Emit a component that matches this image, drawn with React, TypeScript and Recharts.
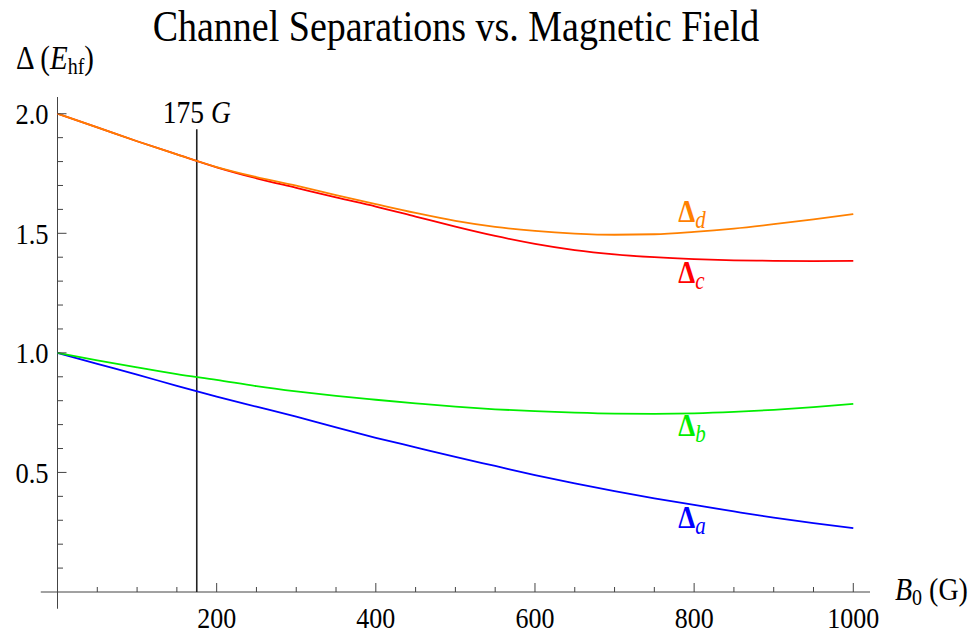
import React from 'react';
import { LineChart, Line, XAxis, YAxis, ReferenceLine, ReferenceDot } from 'recharts';

// B0 in gauss, separations in units of E_hf
const fieldG = [0, 50, 100, 150, 200, 250, 300, 350, 400, 450, 500, 550, 600, 650, 700, 750, 800, 850, 900, 950, 1000];
const deltaA = [1.0, 0.954, 0.909, 0.862, 0.817, 0.775, 0.733, 0.688, 0.645, 0.605, 0.565, 0.527, 0.489, 0.454, 0.422, 0.392, 0.364, 0.337, 0.311, 0.288, 0.267];
const deltaB = [1.0, 0.969, 0.939, 0.911, 0.887, 0.861, 0.839, 0.820, 0.804, 0.789, 0.775, 0.764, 0.756, 0.750, 0.746, 0.745, 0.747, 0.753, 0.762, 0.773, 0.787];
const deltaC = [2.0, 1.943, 1.885, 1.830, 1.776, 1.730, 1.690, 1.650, 1.612, 1.570, 1.528, 1.489, 1.456, 1.430, 1.412, 1.400, 1.392, 1.387, 1.385, 1.384, 1.385];
const deltaD = [2.0, 1.943, 1.885, 1.830, 1.777, 1.735, 1.699, 1.660, 1.622, 1.585, 1.552, 1.527, 1.510, 1.499, 1.494, 1.496, 1.506, 1.520, 1.538, 1.558, 1.580];

const xTicks = [50, 100, 150, 200, 250, 300, 350, 400, 450, 500, 550, 600, 650, 700, 750, 800, 850, 900, 950, 1000];
const yTicks = [0.1, 0.2, 0.3, 0.4, 0.5, 0.6, 0.7, 0.8, 0.9, 1.0, 1.1, 1.2, 1.3, 1.4, 1.5, 1.6, 1.7, 1.8, 1.9, 2.0];

const markerField = 175;

const data = fieldG.map((b, i) => ({ b, a: deltaA[i], bb: deltaB[i], c: deltaC[i], d: deltaD[i] }));

const SERIF = '"Liberation Serif", "Times New Roman", serif';
const AXIS = '#444';
const STRETCH = 1.15; // the reference type is a little taller than it is wide

const COLORS = { a: '#0000ff', b: '#00ee00', c: '#ff0000', d: '#ff8000' };

// where the Δ labels sit (data coords)
const curveLabels = [
  { sub: 'd', color: COLORS.d, x: 780, y: 1.547 },
  { sub: 'c', color: COLORS.c, x: 780, y: 1.292 },
  { sub: 'b', color: COLORS.b, x: 780, y: 0.652 },
  { sub: 'a', color: COLORS.a, x: 780, y: 0.268 },
];

const TallText = ({ x, y, size, anchor = 'start', fill = '#000', children }: any) => (
  <text
    transform={`translate(${x} ${y}) scale(1 ${STRETCH})`}
    x={0}
    y={0}
    textAnchor={anchor}
    fontSize={size}
    fontFamily={SERIF}
    fill={fill}
  >
    {children}
  </text>
);

const XTick = (props: any) => {
  const { x, y, payload } = props;
  const major = payload.value % 200 === 0;
  return (
    <g>
      <line x1={x} y1={y} x2={x} y2={y - (major ? 9 : 5)} stroke={AXIS} strokeWidth={1} />
      {major && (
        <TallText x={x} y={y + 35.5} size={26} anchor="middle">
          {payload.value}
        </TallText>
      )}
    </g>
  );
};

const YTick = (props: any) => {
  const { x, y, payload } = props;
  const v = payload.value;
  const major = Math.abs(v * 2 - Math.round(v * 2)) < 1e-6;
  return (
    <g>
      <line x1={x} y1={y} x2={x + (major ? 9 : 5.5)} y2={y} stroke={AXIS} strokeWidth={1} />
      {major && (
        <TallText x={x - 9} y={y + 10.5} size={26.5} anchor="end">
          {v.toFixed(1)}
        </TallText>
      )}
    </g>
  );
};

const App: React.FC = () => {
  return (
    <div style={{ position: 'absolute', left: 0, top: 0, width: 978, height: 634, background: '#fff' }}>
      <LineChart
        width={978}
        height={634}
        data={data}
        margin={{ top: 97, right: 108, bottom: 2, left: 7.5 }}
      >
        <XAxis
          dataKey="b"
          type="number"
          domain={[0, 1021]}
          ticks={xTicks}
          interval={0}
          axisLine={false}
          tickLine={false}
          tickSize={0}
          tickMargin={0}
          height={40}
          tick={(p: any) => <XTick {...p} />}
        />
        <YAxis
          type="number"
          domain={[0, 2.07]}
          ticks={yTicks}
          interval={0}
          axisLine={false}
          tickLine={false}
          tickSize={0}
          tickMargin={0}
          width={50}
          tick={(p: any) => <YTick {...p} />}
        />
        <ReferenceLine segment={[{ x: -21, y: 0 }, { x: 1021, y: 0 }]} stroke={AXIS} strokeWidth={1} ifOverflow="visible" />
        <ReferenceLine segment={[{ x: 0, y: -0.07 }, { x: 0, y: 2.07 }]} stroke={AXIS} strokeWidth={1} ifOverflow="visible" />
        <ReferenceLine segment={[{ x: markerField, y: 0 }, { x: markerField, y: 1.935 }]} stroke="#222" strokeWidth={1.6} />
        <ReferenceDot
          x={markerField}
          y={1.935}
          r={0}
          shape={(p: any) => (
            <TallText x={p.cx} y={p.cy - 6} size={27.5} anchor="middle">
              175 <tspan fontStyle="italic">G</tspan>
            </TallText>
          )}
        />
        <Line dataKey="a" type="monotone" stroke={COLORS.a} strokeWidth={1.8} dot={false} isAnimationActive={false} />
        <Line dataKey="bb" type="monotone" stroke={COLORS.b} strokeWidth={1.8} dot={false} isAnimationActive={false} />
        <Line dataKey="c" type="monotone" stroke={COLORS.c} strokeWidth={1.8} dot={false} isAnimationActive={false} />
        <Line dataKey="d" type="monotone" stroke={COLORS.d} strokeWidth={1.8} dot={false} isAnimationActive={false} />
        {curveLabels.map((l) => (
          <ReferenceDot
            key={l.sub}
            x={l.x}
            y={l.y}
            r={0}
            shape={(p: any) => (
              <TallText x={p.cx} y={p.cy} size={27} fill={l.color}>
                <tspan fontWeight="bold">Δ</tspan>
                <tspan fontSize={21} fontStyle="italic" dy={5}>{l.sub}</tspan>
              </TallText>
            )}
          />
        ))}
        <TallText x={456} y={41} size={38} anchor="middle">
          Channel Separations vs. Magnetic Field
        </TallText>
        <TallText x={16} y={69} size={29}>
          Δ (<tspan fontStyle="italic">E</tspan>
          <tspan fontSize={20} dy={4}>hf</tspan>
          <tspan dy={-4}>)</tspan>
        </TallText>
        <TallText x={895} y={600} size={28}>
          <tspan fontStyle="italic">B</tspan>
          <tspan fontSize={20} dy={4}>0</tspan>
          <tspan dy={-4}> (G)</tspan>
        </TallText>
      </LineChart>
    </div>
  );
};

export default App;
